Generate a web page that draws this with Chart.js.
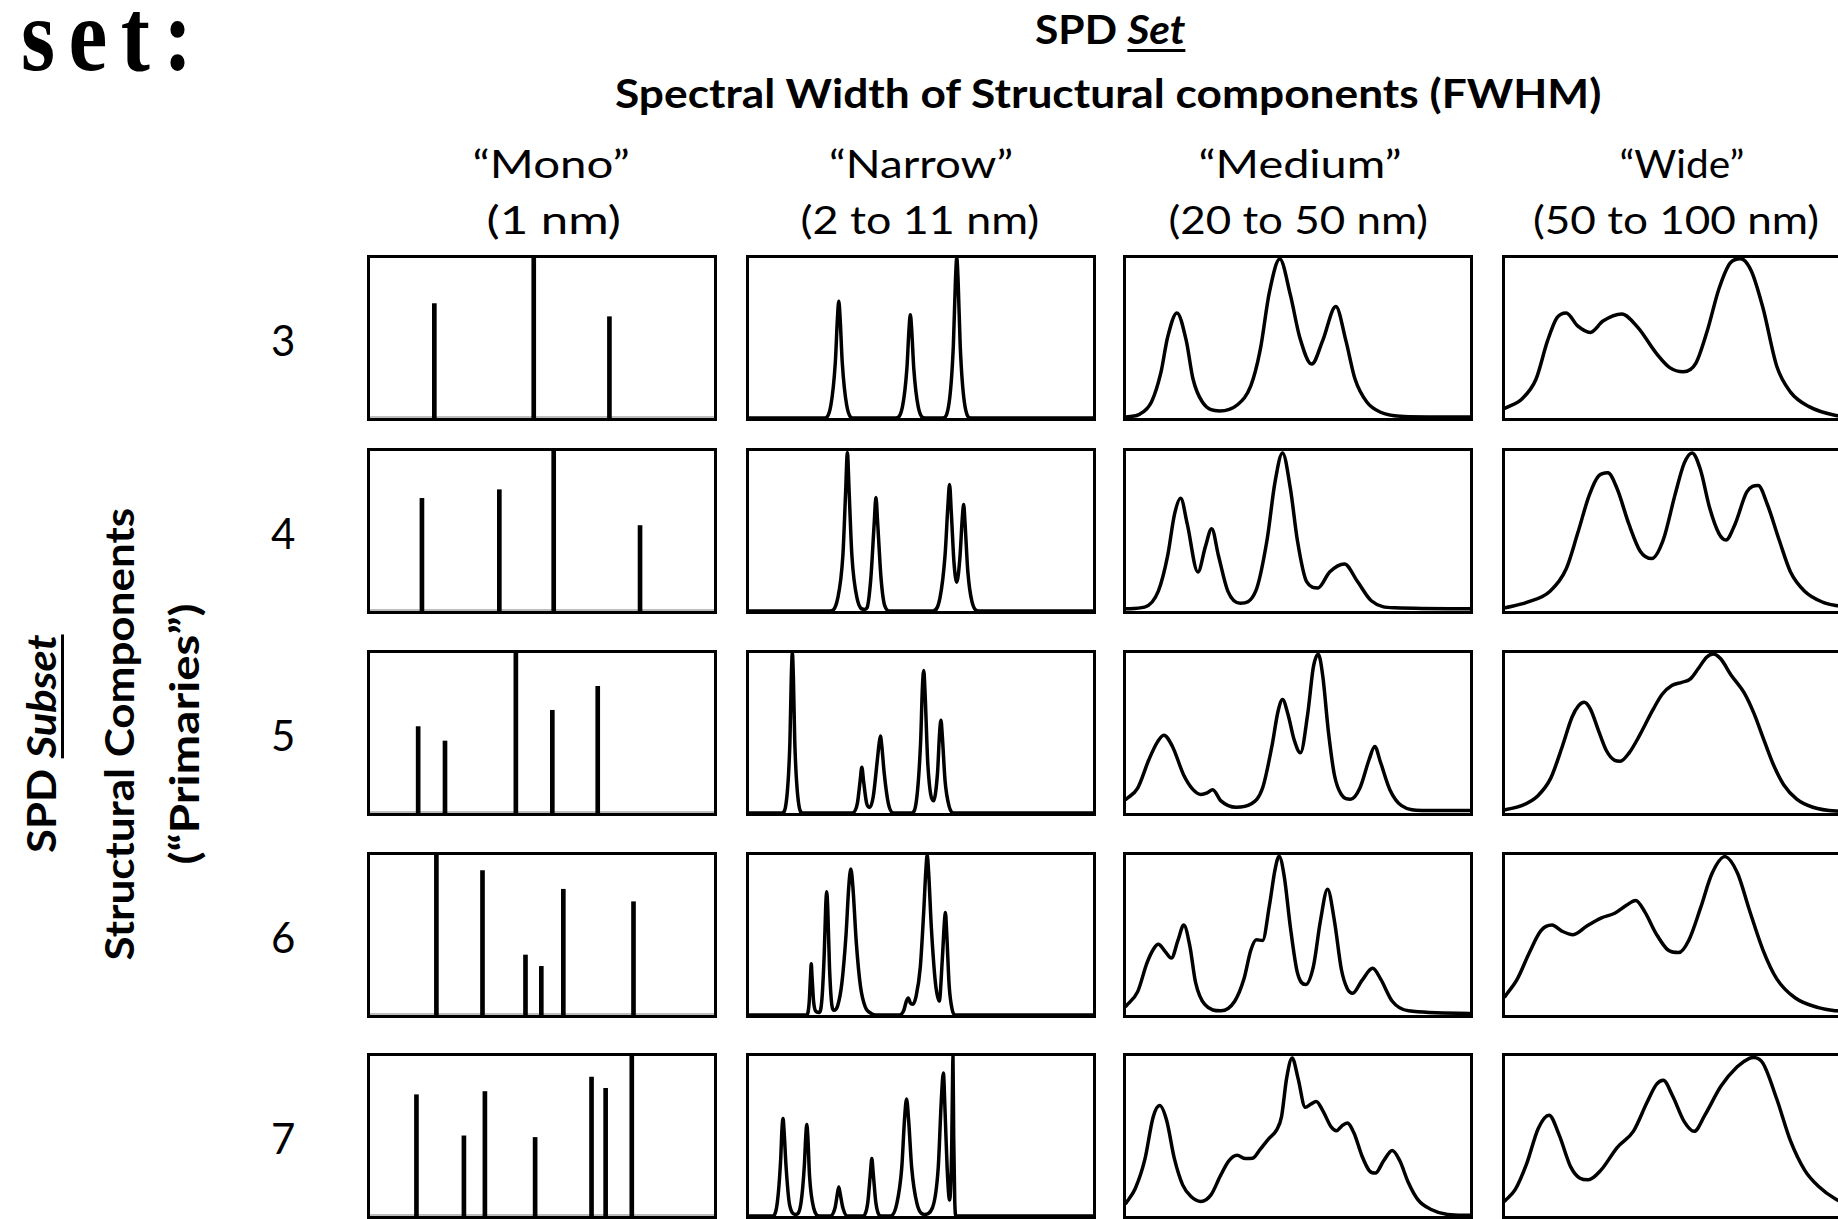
<!DOCTYPE html>
<html>
<head>
<meta charset="utf-8">
<script src="https://cdn.jsdelivr.net/npm/chart.js@4.4.1/dist/chart.umd.min.js"></script>
<style>
  html, body { margin: 0; padding: 0; background: #fff; }
  body { width: 1838px; height: 1219px; overflow: hidden; position: relative; }
  .lbl { position: absolute; white-space: nowrap; line-height: 1; color: #000; }
  .lbl u { text-decoration-thickness: 3px; text-underline-offset: 5px; }
  .panel { position: absolute; box-sizing: border-box; border: 3px solid #000; background: #fff; }
  .panel canvas { display: block; }
</style>
</head>
<body>
<script>
// ---------------- DATA ----------------
const titleTop = 'SPD <u><i>Set</i></u>';
const titleMain = 'Spectral Width of Structural components (FWHM)';
const sideTitle = 'SPD <u><i>Subset</i></u>';
const sideLine1 = 'Structural Components';
const sideLine2 = '(“Primaries”)';
const cornerText = 'set:';
const rowLabels = ['3', '4', '5', '6', '7'];
const columnNames = ['“Mono”', '“Narrow”', '“Medium”', '“Wide”'];
const columnRanges = ['(1 nm)', '(2 to 11 nm)', '(20 to 50 nm)', '(50 to 100 nm)'];

// Mono lines: [position (0-100), relative height (0-1)]
const mono3 = [[18.7,0.715],[47.6,1.0],[69.6,0.633]];
const mono4 = [[15.1,0.704],[37.6,0.758],[53.4,1.0],[78.5,0.534]];
const mono5 = [[14.0,0.54],[21.8,0.45],[42.4,1.0],[53.0,0.642],[66.2,0.792]];
const mono6 = [[19.3,1.0],[32.7,0.903],[45.2,0.375],[49.8,0.304],[56.2,0.786],[76.6,0.708]];
const mono7 = [[13.5,0.758],[27.3,0.501],[33.4,0.778],[48.0,0.491],[64.4,0.869],[68.5,0.798],[76.1,1.0]];

// Narrow curves: [position, relative power]
const narrow3 = [[0,0],[21.8,0],[23.8,0.08],[25.1,0.35],[25.7,0.62],[26.1,0.73],[26.5,0.62],[27.1,0.35],[28.4,0.08],[30.4,0],
  [42.6,0],[44.6,0.07],[45.9,0.31],[46.5,0.55],[46.9,0.645],[47.3,0.55],[47.9,0.31],[49.2,0.07],[51.2,0],
  [56.3,0],[58.2,0.1],[59.4,0.45],[60.0,0.85],[60.4,1.0],[60.8,0.85],[61.4,0.45],[62.6,0.1],[64.5,0],[100,0]];
const narrow4 = [[0,0],[23.5,0],[25.8,0.08],[27.3,0.35],[28.1,0.75],[28.6,0.99],[29.1,0.75],[29.9,0.35],[31.4,0.08],[33.5,0.01],
  [34.3,0.02],[35.4,0.2],[36.4,0.55],[36.9,0.71],[37.4,0.55],[38.4,0.2],[39.5,0.03],[41,0],
  [53.5,0],[55.5,0.08],[57,0.35],[57.8,0.65],[58.3,0.79],[58.8,0.62],[59.6,0.3],[60.4,0.18],[61.3,0.33],[62,0.58],[62.4,0.665],[62.8,0.55],[63.6,0.25],[64.8,0.06],[66.8,0],[100,0]];
const narrow5 = [[0,0],[9.6,0],[11.0,0.1],[11.9,0.45],[12.3,0.85],[12.6,1.0],[12.9,0.85],[13.3,0.45],[14.2,0.1],[15.6,0],
  [30.0,0],[31.5,0.06],[32.3,0.2],[32.8,0.286],[33.3,0.2],[34.2,0.06],[35.1,0.035],[36.1,0.1],[37.3,0.33],[37.8,0.43],[38.2,0.482],[38.6,0.42],[39.3,0.25],[40.5,0.06],[42,0],
  [47.3,0],[48.8,0.1],[49.9,0.45],[50.4,0.78],[50.8,0.89],[51.2,0.74],[52.0,0.3],[53.6,0.076],[54.8,0.25],[55.4,0.5],[55.8,0.58],[56.2,0.48],[57.0,0.2],[58.2,0.04],[59.5,0],[100,0]];
const narrow6 = [[0,0],[16.8,0],[17.5,0.08],[17.9,0.25],[18.1,0.32],[18.3,0.25],[18.8,0.08],[19.6,0.02],[20.4,0.016],[21.2,0.1],[21.9,0.4],[22.3,0.68],[22.6,0.77],[22.9,0.66],[23.4,0.3],[24.1,0.06],[24.7,0.03],
  [25.8,0.06],[27.0,0.2],[28.2,0.5],[29.0,0.8],[29.6,0.913],[30.2,0.8],[31.2,0.45],[32.4,0.18],[33.8,0.05],[35.5,0.01],[37,0],
  [43.8,0],[45.0,0.03],[45.8,0.09],[46.3,0.107],[46.9,0.075],[47.6,0.067],[48.6,0.12],[49.8,0.3],[50.8,0.65],[51.4,0.9],[51.8,1.0],[52.2,0.9],[53.0,0.55],[54.2,0.2],[55.3,0.087],
  [56.2,0.35],[56.8,0.58],[57.1,0.64],[57.5,0.5],[58.2,0.18],[59.0,0.04],[60,0],[100,0]];
const narrow7 = [[0,0],[6.8,0],[8.2,0.08],[9.2,0.35],[9.6,0.55],[9.9,0.61],[10.2,0.53],[10.8,0.3],[11.8,0.07],[13.6,0.01],[15.1,0.08],[16.1,0.32],[16.5,0.5],[16.8,0.572],[17.1,0.5],[17.6,0.25],[18.8,0.05],[20.5,0],
  [23.6,0],[25.0,0.05],[25.7,0.14],[26.1,0.182],[26.5,0.14],[27.3,0.05],[28.6,0],
  [33.0,0],[34.5,0.08],[35.3,0.27],[35.7,0.36],[36.1,0.27],[36.9,0.08],[38.4,0],
  [41.2,0],[43.0,0.08],[44.4,0.3],[45.2,0.6],[45.8,0.731],[46.4,0.6],[47.3,0.3],[48.8,0.08],[51.0,0.01],[53.3,0.05],[55.0,0.3],[55.9,0.72],[56.5,0.893],[57.0,0.65],[57.6,0.3],[58.3,0.1],
  [58.9,0.4],[59.2,0.9],[59.3,1.0],[59.5,0.5],[59.8,0.1],[60.2,0],[100,0]];

// Medium curves
const medium3 = [[0,0.006],[4,0.024],[7.4,0.1],[10.1,0.28],[12.1,0.505],[14.8,0.657],[17.5,0.485],[19.5,0.242],[22.2,0.1],[27.2,0.044],[32.3,0.081],[36.3,0.202],[39,0.424],[41.7,0.788],[44.7,0.994],[47.8,0.768],[50.5,0.505],[54,0.337],[57.2,0.485],[61,0.697],[63.9,0.485],[66.6,0.242],[70,0.1],[74,0.036],[80.8,0.01],[100,0.006]];
const medium4 = [[0,0.014],[5.4,0.024],[9.4,0.124],[12.1,0.344],[14.1,0.604],[15.9,0.704],[17.8,0.544],[20.9,0.244],[23.1,0.404],[24.9,0.514],[26.9,0.344],[29.6,0.124],[33.2,0.048],[37.7,0.124],[41,0.444],[43.3,0.804],[45.5,0.988],[47.8,0.764],[49.8,0.444],[52.5,0.184],[55.8,0.144],[59.2,0.244],[63.5,0.294],[67.3,0.184],[71.3,0.064],[78.1,0.02],[100,0.014]];
const medium5 = [[0,0.086],[3.4,0.156],[6.7,0.336],[9.2,0.446],[11,0.486],[13.5,0.416],[16.8,0.236],[19.5,0.146],[21.8,0.116],[23.6,0.126],[25.2,0.146],[27.6,0.076],[32,0.036],[36.3,0.056],[39.7,0.156],[42.4,0.416],[44.2,0.636],[45.5,0.71],[47.1,0.616],[48.9,0.456],[50.7,0.376],[52.8,0.616],[54.5,0.916],[55.9,0.992],[57.2,0.856],[58.8,0.516],[60.6,0.236],[62.6,0.116],[65.3,0.086],[68,0.156],[70.7,0.336],[72.3,0.416],[74,0.316],[76.7,0.146],[80.1,0.046],[86.1,0.016],[100,0.016]];
const medium6 = [[0,0.056],[3.4,0.146],[6.1,0.326],[8.1,0.416],[9.4,0.442],[11.4,0.396],[13.2,0.356],[15.1,0.466],[16.8,0.562],[18.6,0.426],[20.2,0.206],[22.9,0.066],[27.6,0.026],[31.6,0.086],[34.3,0.226],[36.3,0.406],[37.9,0.47],[39.7,0.466],[41.7,0.686],[43.3,0.906],[44.5,0.992],[46,0.866],[47.8,0.546],[49.8,0.266],[52.2,0.19],[54.5,0.306],[56.5,0.586],[58.6,0.786],[60.6,0.586],[62.6,0.286],[64.3,0.166],[65.9,0.136],[68.6,0.216],[71.7,0.292],[74,0.226],[77.4,0.086],[82.1,0.026],[100,0.01]];
const medium7 = [[0,0.081],[2.7,0.172],[5.5,0.355],[7.9,0.619],[9.8,0.69],[11.8,0.598],[14.1,0.355],[16.5,0.193],[18.9,0.122],[21.8,0.091],[24.7,0.132],[27.5,0.254],[29.9,0.345],[32.3,0.379],[34.7,0.359],[36.8,0.361],[39,0.416],[41.4,0.481],[43.8,0.538],[45.2,0.619],[46.7,0.862],[48.3,0.988],[50,0.862],[52.1,0.68],[53.8,0.7],[55.3,0.716],[57.2,0.659],[59.6,0.558],[61.2,0.533],[62.7,0.562],[64.3,0.582],[66.3,0.517],[68.6,0.375],[70.7,0.284],[72.5,0.268],[74.9,0.345],[77.4,0.41],[79.6,0.345],[82,0.213],[84.9,0.101],[88.7,0.041],[93.5,0.01],[100,0.004]];

// Wide curves
const wide3 = [[0,0.061],[5,0.121],[9,0.242],[12.4,0.485],[15.1,0.626],[17.8,0.657],[21.1,0.576],[24.8,0.535],[28.5,0.606],[33.9,0.65],[38.6,0.566],[44,0.404],[48,0.313],[51.8,0.289],[55.5,0.343],[58.8,0.545],[62.2,0.808],[65.5,0.97],[68.5,0.996],[71.6,0.919],[75,0.687],[79,0.323],[83,0.162],[88.4,0.071],[96.2,0.016],[100,0.01]];
const wide4 = [[0,0.02],[6.3,0.054],[13.1,0.124],[17.8,0.264],[21.1,0.484],[24.5,0.724],[27.2,0.844],[29.9,0.864],[32.6,0.764],[36,0.544],[39.3,0.374],[42.7,0.328],[46,0.444],[49.4,0.724],[52.1,0.924],[54.4,0.988],[56.8,0.884],[59.5,0.644],[62.2,0.484],[64.2,0.444],[66.9,0.544],[70.3,0.744],[73.6,0.784],[76.3,0.664],[79.7,0.444],[83,0.244],[87.1,0.124],[92.5,0.054],[96.2,0.034],[100,0.025]];
const wide5 = [[0,0.02],[4.8,0.046],[9.5,0.107],[13.3,0.218],[16.7,0.419],[19.5,0.6],[21.4,0.671],[23,0.692],[24.8,0.651],[27.1,0.52],[29.5,0.389],[31.9,0.329],[33.5,0.323],[36.2,0.379],[39,0.48],[42.9,0.641],[45.7,0.742],[48.6,0.798],[51.4,0.817],[53.8,0.837],[56.2,0.903],[58.6,0.974],[60.5,0.994],[62.7,0.964],[65.7,0.863],[69.5,0.752],[72.4,0.621],[75.2,0.46],[78.1,0.298],[81,0.177],[84.8,0.087],[89.5,0.036],[96.2,0.012],[100,0.01]];
const wide6 = [[0,0.116],[3.6,0.226],[7,0.386],[10.4,0.526],[13.7,0.562],[16.4,0.526],[19.8,0.502],[23.8,0.556],[27.9,0.606],[31.9,0.636],[35.3,0.686],[38,0.716],[40.6,0.646],[44,0.506],[47.4,0.406],[50.5,0.39],[53.4,0.466],[56.8,0.666],[60.2,0.886],[63.9,0.99],[67.6,0.886],[70.9,0.666],[75,0.406],[79,0.226],[84.4,0.106],[91.1,0.046],[96.2,0.026],[100,0.02]];
const wide7 = [[0,0.095],[3,0.166],[6.3,0.327],[9.7,0.549],[12.8,0.63],[15.7,0.509],[19.1,0.307],[21.8,0.236],[24.2,0.226],[27.9,0.287],[32.6,0.428],[37.3,0.529],[41.3,0.711],[44,0.822],[46,0.848],[48.7,0.752],[52.1,0.59],[55,0.529],[58.1,0.63],[62.8,0.812],[67.5,0.933],[70.9,0.984],[72.3,0.99],[75,0.954],[79,0.731],[83,0.469],[87.1,0.287],[91.1,0.186],[96.2,0.105],[100,0.07]];

const gridData = [
  [mono3, narrow3, medium3, wide3],
  [mono4, narrow4, medium4, wide4],
  [mono5, narrow5, medium5, wide5],
  [mono6, narrow6, medium6, wide6],
  [mono7, narrow7, medium7, wide7]
];

// ---------------- LAYOUT ----------------
const colLeft = [367, 745.5, 1123, 1501.5];
const rowTop = [255, 447.5, 649.5, 852, 1053];
const panelW = 350, panelH = 166, bw = 3;

const mctx = document.createElement('canvas').getContext('2d');
function addText(o) {
  const el = document.createElement('div');
  el.className = 'lbl';
  el.innerHTML = o.html;
  el.style.font = o.weight + ' ' + o.size + 'px ' + o.family;
  if (o.ls) el.style.letterSpacing = o.ls + 'px';
  document.body.appendChild(el);
  const w = el.offsetWidth;
  mctx.font = o.weight + ' ' + o.size + 'px ' + o.family;
  const m = mctx.measureText('Hg');
  const A = m.fontBoundingBoxAscent, D = m.fontBoundingBoxDescent;
  const bo = o.size / 2 + (A - D) / 2;
  const s = o.w ? o.w / w : 1;
  const tx = o.align === 'left' ? 0 : -w / 2;
  el.style.left = o.x + 'px';
  el.style.top = o.y + 'px';
  el.style.transformOrigin = '0 0';
  el.style.transform = (o.rotate ? 'rotate(-90deg) ' : '') + 'scaleX(' + s + ') translate(' + tx + 'px,' + (-bo) + 'px)';
  return el;
}

const SANS = 'Lato, "Open Sans", sans-serif';
addText({html: cornerText, weight: 'bold', size: 104, family: '"Liberation Serif", serif', ls: 16, x: 21, y: 62, w: 185, align: 'left'});
addText({html: titleTop, weight: 'bold', size: 40, family: SANS, x: 1110, y: 40, w: 150});
addText({html: titleMain, weight: 'bold', size: 40, family: SANS, x: 1108, y: 104, w: 986});

const nameX = [551, 921, 1299.5, 1682], nameW = [157, 184, 203, 125];
const rangeX = [554, 920, 1298, 1676], rangeW = [135, 239, 259, 286];
columnNames.forEach((t, i) => addText({html: t, weight: 'normal', size: 39, family: SANS, x: nameX[i], y: 174, w: nameW[i]}));
columnRanges.forEach((t, i) => addText({html: t, weight: 'normal', size: 39, family: SANS, x: rangeX[i], y: 230, w: rangeW[i]}));

rowLabels.forEach((t, r) => addText({html: t, weight: 'normal', size: 42, family: SANS, x: 283, y: rowTop[r] + panelH / 2 + 14}));

addText({html: sideTitle, weight: 'bold', size: 40, family: SANS, x: 52, y: 744, w: 218, rotate: true});
addText({html: sideLine1, weight: 'bold', size: 40, family: SANS, x: 130, y: 734, w: 453, rotate: true});
addText({html: sideLine2, weight: 'bold', size: 40, family: SANS, x: 195, y: 734, w: 261, rotate: true});

// ---------------- CHARTS ----------------
const toXY = arr => arr.map(p => ({x: p[0], y: p[1]}));
function makeOptions() {
  return {
    responsive: false,
    animation: false,
    events: [],
    layout: {padding: 0},
    plugins: {legend: {display: false}, tooltip: {enabled: false}},
    scales: {
      x: {type: 'linear', min: 0, max: 100, offset: false, display: false},
      y: {type: 'linear', min: 0, max: 1, display: false}
    }
  };
}

gridData.forEach((row, r) => {
  row.forEach((series, c) => {
    const div = document.createElement('div');
    div.className = 'panel';
    div.style.left = colLeft[c] + 'px';
    div.style.top = rowTop[r] + 'px';
    div.style.width = panelW + 'px';
    div.style.height = panelH + 'px';
    const cv = document.createElement('canvas');
    cv.width = panelW - 2 * bw;
    cv.height = panelH - 2 * bw;
    div.appendChild(cv);
    document.body.appendChild(div);
    let datasets;
    if (c === 0) {
      datasets = [
        {type: 'bar', data: toXY(series), backgroundColor: '#000', borderWidth: 0, barThickness: 4},
        {type: 'line', data: [{x: 0, y: 0}, {x: 100, y: 0}], borderColor: '#bdbdbd', borderWidth: 4, pointRadius: 0}
      ];
    } else {
      datasets = [{
        type: 'line', data: toXY(series), borderColor: '#000', borderWidth: 3.5,
        pointRadius: 0, fill: false, cubicInterpolationMode: 'monotone', borderJoinStyle: 'round', borderCapStyle: 'round'
      }];
    }
    new Chart(cv, {type: 'line', data: {datasets}, options: makeOptions()});
  });
});
</script>
</body>
</html>
